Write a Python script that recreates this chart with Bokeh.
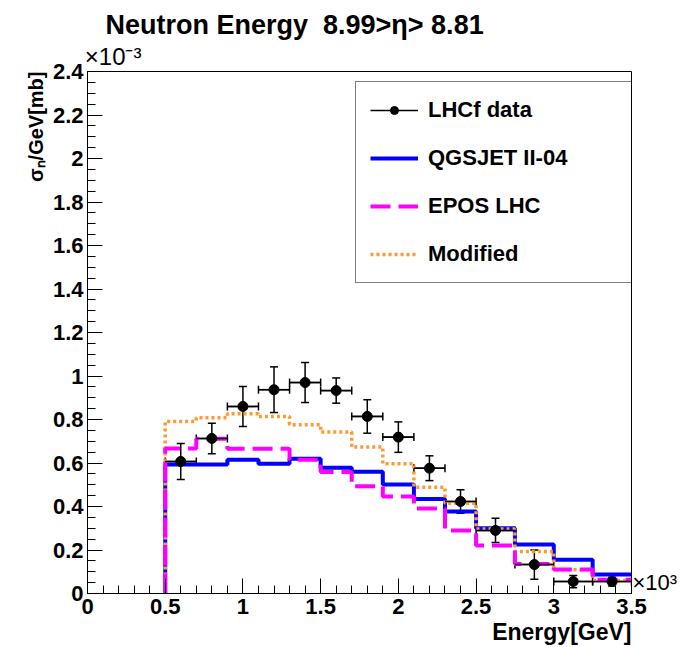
import numpy as np
from bokeh.plotting import figure
from bokeh.models import (Legend, LegendItem, Whisker, TeeHead, ColumnDataSource, Title,
                          FixedTicker, CustomJSTickFormatter, Range1d, LinearAxis)
from bokeh.embed import file_html
from bokeh.resources import INLINE

# ---- data (x in 10^3 GeV, y in 10^-3 mb/GeV) ----
bin_edges = [0.5, 0.7, 0.9, 1.1, 1.3, 1.5, 1.7, 1.9, 2.1, 2.3, 2.5, 2.75, 3.0, 3.25, 3.5]
lhcf = [0.607, 0.713, 0.860, 0.937, 0.970, 0.933, 0.814, 0.719, 0.576, 0.423, 0.290, 0.133, 0.055, 0.055]
lhcf_err = [0.083, 0.070, 0.092, 0.105, 0.092, 0.058, 0.077, 0.070, 0.057, 0.054, 0.056, 0.067, 0.028, 0.020]
qgsjet = [0.593, 0.593, 0.615, 0.596, 0.619, 0.578, 0.560, 0.501, 0.434, 0.377, 0.300, 0.225, 0.155, 0.087]
epos = [0.667, 0.711, 0.665, 0.665, 0.615, 0.559, 0.493, 0.446, 0.391, 0.290, 0.221, 0.136, 0.110, 0.063]
modified = [0.791, 0.808, 0.826, 0.814, 0.776, 0.742, 0.673, 0.596, 0.489, 0.415, 0.297, 0.193, 0.109, 0.060]

x_major = [0, 0.5, 1, 1.5, 2, 2.5, 3, 3.5]
x_minor = [round(0.1 * i, 2) for i in range(36)]
y_major = [0, 0.2, 0.4, 0.6, 0.8, 1, 1.2, 1.4, 1.6, 1.8, 2, 2.2, 2.4]
y_minor = [round(0.05 * i, 2) for i in range(49)]

FONT = "Liberation Sans"


def step_xy(edges, vals):
    xs, ys = [edges[0]], [0.0]
    for i, v in enumerate(vals):
        xs += [edges[i], edges[i + 1]]
        ys += [v, v]
    return xs, ys


p = figure(width=680, height=647, output_backend="svg", toolbar_location=None, title=None,
           x_range=Range1d(0, 3.5), y_range=Range1d(0, 2.4),
           min_border_left=87, min_border_right=47, min_border_top=71, min_border_bottom=54,
           background_fill_color="white", border_fill_color="white")
p.outline_line_color = "black"
p.outline_line_width = 1
p.grid.visible = False

fmt = CustomJSTickFormatter(code="return (Math.round(tick*100)/100).toString();")
p.xaxis.ticker = FixedTicker(ticks=x_major, minor_ticks=x_minor)
p.yaxis.ticker = FixedTicker(ticks=y_major, minor_ticks=y_minor)
for ax in (p.xaxis, p.yaxis):
    ax.formatter = fmt
    ax.major_tick_in = 15
    ax.major_tick_out = 0
    ax.minor_tick_in = 8
    ax.minor_tick_out = 0
    ax.axis_line_color = "black"
    ax.major_tick_line_color = "black"
    ax.minor_tick_line_color = "black"
    ax.major_label_text_font = FONT
    ax.major_label_text_font_style = "bold"
    ax.major_label_text_font_size = "22px"
    ax.major_label_text_color = "black"
p.yaxis.major_label_standoff = 4
p.xaxis.major_label_standoff = 5

# multiplier "x10^-3" above the frame (top-left)
top_ax = LinearAxis(ticker=FixedTicker(ticks=[0.165], minor_ticks=[]),
                    formatter=CustomJSTickFormatter(code="return '\u00d710\u207b\u00b3';"),
                    axis_line_color=None, major_tick_line_color=None, minor_tick_line_color=None,
                    major_tick_in=0, major_tick_out=0, major_label_standoff=2,
                    major_label_text_font=FONT, major_label_text_font_size="24px",
                    major_label_text_color="black")
p.add_layout(top_ax, "above")

p.add_layout(Title(text="Neutron Energy\u00a0 8.99>\u03b7> 8.81", align="left", offset=18, standoff=0,
                   text_font=FONT, text_font_style="bold", text_font_size="27px",
                   text_color="black"), "above")

# multiplier "x10^3" at the right end of the x axis
right_ax = LinearAxis(ticker=FixedTicker(ticks=[0.05], minor_ticks=[]),
                      formatter=CustomJSTickFormatter(code="return '\u00d710\u00b3';"),
                      axis_line_color=None, major_tick_line_color=None, minor_tick_line_color=None,
                      major_tick_in=0, major_tick_out=0, major_label_standoff=1,
                      major_label_text_font=FONT, major_label_text_font_size="22px",
                      major_label_text_color="black")
p.add_layout(right_ax, "right")

# axis titles
p.add_layout(Title(text="Energy[GeV]", align="right", standoff=0,
                   text_font=FONT, text_font_style="bold", text_font_size="23px",
                   text_color="black"), "below")
p.add_layout(Title(text="\u03c3\u2099/GeV[mb]", align="right", standoff=6,
                   text_font=FONT, text_font_style="bold", text_font_size="20px",
                   text_color="black"), "left")

# ---- model histograms ----
qx, qy = step_xy(bin_edges, qgsjet)
ex, ey = step_xy(bin_edges, epos)
mx, my = step_xy(bin_edges, modified)
r_q = p.line(qx, qy, line_color="#0000ff", line_width=4)
r_m = p.line(mx, my, line_color="#ff9933", line_width=3.5, line_dash="3 3")
r_e = p.line(ex, ey, line_color="#ff00ff", line_width=4, line_dash="20 8")

# ---- data points ----
centers = [(bin_edges[i] + bin_edges[i + 1]) / 2 for i in range(len(lhcf))]
src = ColumnDataSource(dict(
    x=centers, y=lhcf,
    lo=[v - e for v, e in zip(lhcf, lhcf_err)],
    hi=[v + e for v, e in zip(lhcf, lhcf_err)],
    xl=bin_edges[:-1], xr=bin_edges[1:],
))
hseg = p.segment(x0="xl", x1="xr", y0="y", y1="y", source=src, line_color="black", line_width=1.5)
p.add_layout(Whisker(source=src, base="y", lower="xl", upper="xr", dimension="width",
                     line_color="black", line_width=1.5,
                     lower_head=TeeHead(size=8, line_color="black", line_width=1.5),
                     upper_head=TeeHead(size=8, line_color="black", line_width=1.5)))
p.add_layout(Whisker(source=src, base="x", lower="lo", upper="hi", dimension="height",
                     line_color="black", line_width=1.5,
                     lower_head=TeeHead(size=8, line_color="black", line_width=1.5),
                     upper_head=TeeHead(size=8, line_color="black", line_width=1.5)))
pts = p.scatter("x", "y", source=src, size=10, color="black")

# ---- legend ----
legend = Legend(items=[
    LegendItem(label="LHCf data", renderers=[hseg, pts]),
    LegendItem(label="QGSJET II-04", renderers=[r_q]),
    LegendItem(label="EPOS LHC", renderers=[r_e]),
    LegendItem(label="Modified", renderers=[r_m]),
], location=(268, 310), border_line_color="black", border_line_width=1,
    background_fill_color="white", background_fill_alpha=1.0,
    label_text_font=FONT, label_text_font_style="bold", label_text_font_size="22px",
    label_text_color="black",
    glyph_width=48, glyph_height=20, label_height=28, label_width=192,
    spacing=20, padding=14, label_standoff=10, margin=0)
p.add_layout(legend)

open("out.html", "w").write(file_html(p, INLINE))
